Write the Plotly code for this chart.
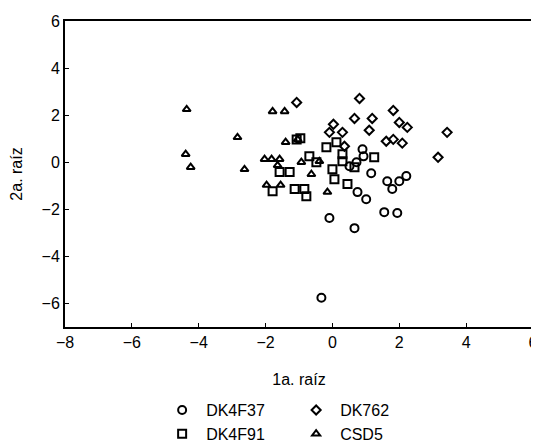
import plotly.graph_objects as go

# DK4F37 (circles)
dk4f37_x = [-0.33, -0.09, 0.66, 1.55, 1.94, 1.64, 1.79, 2.00, 2.21, 1.16, 1.01, 0.75, 0.90, 0.93, 0.72, 0.51]
dk4f37_y = [-5.76, -2.37, -2.80, -2.12, -2.16, -0.81, -1.14, -0.81, -0.59, -0.47, -1.57, -1.27, 0.55, 0.25, 0.00, -0.17]

# DK762 (diamonds)
dk762_x = [-1.07, 0.81, 0.66, 1.19, 1.10, 1.82, 2.00, 2.24, 1.61, 1.82, 2.09, 3.43, 3.16, 0.03, -0.09, 0.30, 0.36]
dk762_y = [2.54, 2.71, 1.86, 1.86, 1.36, 2.20, 1.69, 1.48, 0.89, 0.97, 0.81, 1.27, 0.21, 1.61, 1.27, 1.27, 0.68]

# DK4F91 (squares)
dk4f91_x = [-1.07, -0.96, -0.18, 0.12, 0.30, 0.30, 1.25, -0.69, -0.48, -1.58, -1.28, 0.00, 0.06, 0.45, 0.66, -1.79, -1.13, -0.84, -0.78]
dk4f91_y = [0.97, 1.02, 0.64, 0.85, 0.34, 0.04, 0.21, 0.25, 0.00, -0.42, -0.42, -0.30, -0.72, -0.93, -0.21, -1.23, -1.14, -1.14, -1.44]

# CSD5 (triangles)
csd5_x = [-4.36, -4.39, -4.24, -2.84, -2.63, -1.79, -1.43, -1.40, -2.03, -1.82, -1.58, -1.64, -0.93, -0.39, -0.63, -0.15, -1.97, -1.55, -1.04]
csd5_y = [2.25, 0.34, -0.21, 1.06, -0.30, 2.16, 2.16, 0.85, 0.13, 0.13, 0.13, -0.13, 0.00, 0.04, -0.51, -1.27, -0.97, -0.97, 0.97]

x_ticks = [-8, -6, -4, -2, 0, 2, 4, 6]
y_ticks = [-6, -4, -2, 0, 2, 4, 6]

FONT = "Liberation Sans, Arial, sans-serif"

def trace(name, xs, ys, symbol, size, legend):
    return go.Scatter(
        x=xs, y=ys, mode="markers", name=name, legend=legend,
        marker=dict(symbol=symbol, size=size, color="black",
                    line=dict(color="black", width=2)),
    )

fig = go.Figure()
fig.add_trace(trace("DK4F37", dk4f37_x, dk4f37_y, "circle-open", 8, "legend"))
fig.add_trace(trace("DK762", dk762_x, dk762_y, "diamond-open", 7, "legend"))
fig.add_trace(trace("DK4F91", dk4f91_x, dk4f91_y, "square-open", 8, "legend2"))
fig.add_trace(trace("CSD5", csd5_x, csd5_y, "triangle-up-open", 7, "legend2"))

axis_common = dict(
    showline=True, linecolor="black", linewidth=2, mirror=True,
    ticks="inside", ticklen=4, tickwidth=1, tickcolor="black",
    showgrid=False, zeroline=False, automargin=False,
    ticklabeloverflow="allow",
    tickfont=dict(family=FONT, size=16, color="black"),
)

legend_common = dict(
    orientation="h", x=0.199, xanchor="left", yref="container", yanchor="middle",
    entrywidth=81, entrywidthmode="pixels", itemwidth=38,
    font=dict(family=FONT, size=16, color="black"), bgcolor="rgba(0,0,0,0)",
)

# page body has an 8px default margin, so the figure is sized to fit the window
fig.update_layout(
    width=531, height=439,
    margin=dict(l=57, r=6, t=13, b=120),
    paper_bgcolor="white", plot_bgcolor="white",
    font=dict(family=FONT, size=16, color="black"),
    xaxis=dict(range=[-8, 6], tickvals=x_ticks,
               title=dict(text="1a. raíz", font=dict(size=16, color="black"), standoff=24),
               **axis_common),
    yaxis=dict(range=[-7, 6], tickvals=y_ticks,
               title=dict(text="2a. raíz", font=dict(size=16, color="black"), standoff=24),
               **axis_common),
    legend=dict(y=0.084, **legend_common),
    legend2=dict(y=0.030, **legend_common),
    showlegend=True,
)

fig.write_html("out.html")
